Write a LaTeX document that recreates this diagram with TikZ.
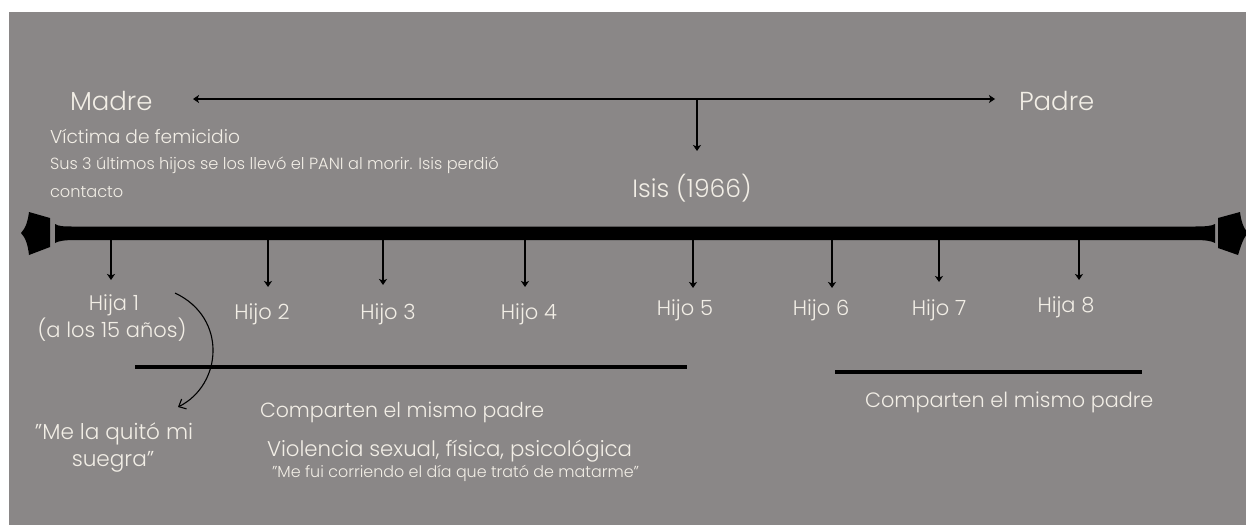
\documentclass[tikz,border=0pt]{standalone}
\usepackage{fontspec}
\setmainfont{Poppins}[UprightFont=* Light]
\usetikzlibrary{arrows.meta}
\definecolor{bggray}{RGB}{138,135,135}
\definecolor{txt}{RGB}{242,238,230}
\begin{document}
\begin{tikzpicture}[x=1pt,y=1pt,
  lbl/.style={text=txt,inner sep=0pt,outer sep=0pt},
  kid/.style={lbl,anchor=base,font=\fontsize{21}{23}\selectfont},
  downarrow/.style={line width=1.6pt,-{Stealth[length=6pt,width=8pt,inset=1.5pt]}},
  grpline/.style={line width=4.5pt},
]
\useasboundingbox (0,0) rectangle (1246,-525);
\fill[white] (0,0) rectangle (1246,-525);
\fill[bggray] (9,-12) rectangle (1246,-525);

% top labels
\node[lbl,anchor=base west,font=\fontsize{26}{28}\selectfont] (madre) at (70,-110) {Madre};
\node[lbl,anchor=base west,font=\fontsize{26}{28}\selectfont] (padre) at (1019,-110) {Padre};
\coordinate (mL) at (193,-99);
\coordinate (mR) at (995,-99);
\coordinate (mC) at (697,-99);
\coordinate (isisTip) at (697,-151);
\draw[line width=1.8pt,{Stealth[length=6pt,width=8pt,inset=1.5pt]}-{Stealth[length=6pt,width=8pt,inset=1.5pt]}] (mL) -- (mR);
\draw[downarrow] (mC) -- (isisTip);
\node[lbl,anchor=base,font=\fontsize{25}{27}\selectfont] (isis) at (692,-197) {Isis (1966)};

\node[lbl,anchor=base west,font=\fontsize{18.6}{20}\selectfont] (victima) at (50,-143) {Víctima de femicidio};
\node[lbl,anchor=base west,font=\fontsize{16.2}{18}\selectfont] (sus) at (50,-169) {Sus 3 últimos hijos se los llevó el PANI al morir. Isis perdió};
\node[lbl,anchor=base west,font=\fontsize{16.2}{18}\selectfont] (contacto) at (50,-197) {contacto};

% timeline bar
\fill[black] (55,-224) .. controls (58,-226.5) and (65,-226.5) .. (75,-226.5) -- (1195,-226.5)
  .. controls (1205,-226.5) and (1212,-226) .. (1215,-224) -- (1215,-243)
  .. controls (1212,-241) and (1205,-240) .. (1195,-240) -- (75,-240)
  .. controls (65,-240) and (58,-241) .. (55,-243) -- cycle;
\fill[black] (21,-233) .. controls (26,-228) and (28,-220) .. (29,-212) -- (50,-218) -- (50,-247) -- (29,-255)
  .. controls (28,-246) and (26,-238) .. (21,-233) -- cycle;
\fill[black] (1218,-218) -- (1240,-212) .. controls (1241,-220) and (1243,-228) .. (1248,-233)
  .. controls (1243,-238) and (1241,-246) .. (1238,-255) -- (1218,-248) -- cycle;

% child arrows
\foreach \n/\x/\t in {1/111/280,2/268/287,3/383/285,4/525/287,5/693/288,6/832/288,7/939/282,8/1079/280}{
  \coordinate (b\n) at (\x,-238);
  \coordinate (t\n) at (\x,-\t);
  \draw[downarrow] (b\n) -- (t\n);
}

\node[kid] (h1) at (114,-310) {Hija 1};
\node[kid] (h1b) at (112,-337) {(a los 15 años)};
\node[kid] (h2) at (262,-319) {Hijo 2};
\node[kid] (h3) at (388,-319) {Hijo 3};
\node[kid] (h4) at (529,-319) {Hijo 4};
\node[kid] (h5) at (685,-315) {Hijo 5};
\node[kid] (h6) at (821,-315) {Hijo 6};
\node[kid] (h7) at (939,-315) {Hijo 7};
\node[kid] (h8) at (1066,-312) {Hija 8};

% group lines
\coordinate (gL1) at (135,-367);
\coordinate (gL2) at (687,-367);
\coordinate (gR1) at (835,-372);
\coordinate (gR2) at (1142,-372);
\draw[grpline] (gL1) -- (gL2);
\draw[grpline] (gR1) -- (gR2);

% curved arrow
\coordinate (cS) at (175,-293);
\coordinate (cE) at (178,-407);
\draw[line width=1.1pt,-{Straight Barb[length=6pt,width=11pt]}] (cS) .. controls (228,-318) and (222,-385) .. (cE);

% lower texts
\node[lbl,anchor=base west,font=\fontsize{20.5}{22}\selectfont] (comp1) at (260,-417) {Comparten el mismo padre};
\node[lbl,anchor=base west,font=\fontsize{21.3}{23}\selectfont] (viol) at (267,-456) {Violencia sexual, física, psicológica};
\node[lbl,anchor=base west,font=\fontsize{15.9}{17}\selectfont] (fui) at (272,-477) {"Me fui corriendo el día que trató de matarme"};
\node[lbl,anchor=base,font=\fontsize{21.6}{23}\selectfont] (quito) at (114,-439) {"Me la quitó mi};
\node[lbl,anchor=base,font=\fontsize{21.6}{23}\selectfont] (suegra) at (113,-466) {suegra"};
\node[lbl,anchor=base west,font=\fontsize{20.8}{22}\selectfont] (comp2) at (865,-407) {Comparten el mismo padre};
\end{tikzpicture}
\end{document}
